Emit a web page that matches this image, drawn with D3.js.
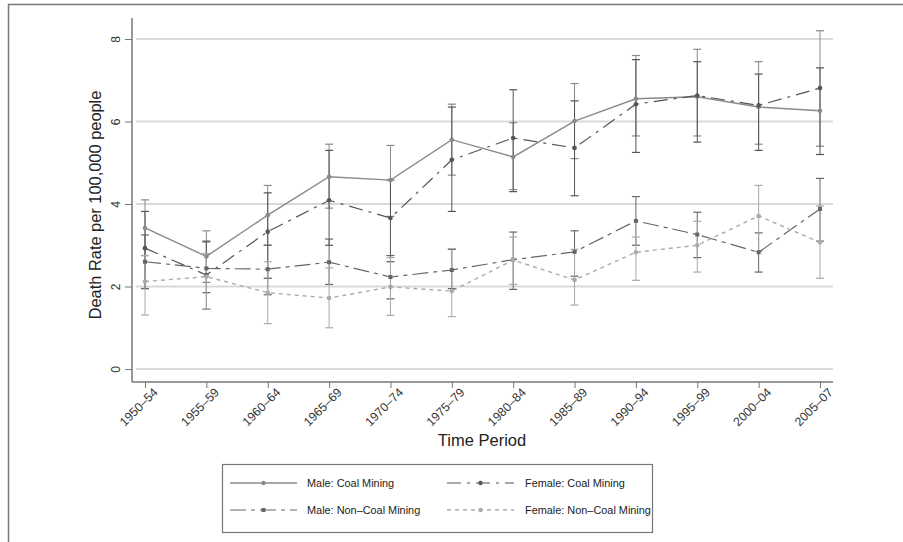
<!DOCTYPE html>
<html><head><meta charset="utf-8">
<script src="https://cdn.jsdelivr.net/npm/d3@7"></script>
<style>body{margin:0;background:#fff}svg{display:block}text{font-family:"Liberation Sans",Arial,sans-serif}</style>
</head><body>
<svg id="c" width="903" height="542"></svg>
<script>
const periods = ["1950–54","1955–59","1960–64","1965–69","1970–74","1975–79","1980–84","1985–89","1990–94","1995–99","2000–04","2005–07"];
const yTicks = [0,2,4,6,8];

const maleCoal     = [3.42,2.73,3.73,4.66,4.58,5.56,5.14,6.01,6.55,6.60,6.35,6.26];
const maleCoalLo   = [2.75,2.10,3.00,3.90,3.70,4.70,4.35,5.10,5.65,5.65,5.45,5.40];
const maleCoalHi   = [4.10,3.35,4.45,5.45,5.42,6.42,5.97,6.92,7.60,7.75,7.45,8.20];

const femCoal      = [2.93,2.28,3.33,4.09,3.66,5.07,5.60,5.36,6.42,6.63,6.39,6.81];
const femCoalLo    = [1.95,1.45,2.20,3.00,2.60,3.82,4.30,4.20,5.25,5.50,5.30,5.20];
const femCoalHi    = [3.82,3.10,4.27,5.30,4.58,6.35,6.77,6.50,7.50,7.45,7.15,7.30];

const maleNon      = [2.60,2.44,2.42,2.59,2.23,2.40,2.65,2.84,3.59,3.26,2.83,3.88];
const maleNonLo    = [1.95,1.85,1.80,2.05,1.70,1.95,1.93,2.25,3.00,2.70,2.35,3.10];
const maleNonHi    = [3.25,3.08,3.00,3.15,2.75,2.90,3.32,3.35,4.18,3.80,3.30,4.62];

const femNon       = [2.12,2.24,1.85,1.72,1.99,1.89,2.64,2.16,2.83,3.00,3.71,3.07];
const femNonLo     = [1.31,1.45,1.10,1.00,1.30,1.27,2.05,1.55,2.15,2.35,2.85,2.20];
const femNonHi     = [2.75,2.80,2.60,2.45,2.70,2.92,3.20,2.90,3.20,3.58,4.45,3.95];

const seriesNames = ["Male: Coal Mining","Female: Coal Mining","Male: Non–Coal Mining","Female: Non–Coal Mining"];

const styles = [
  {color:"#8a8a8a", dash:null, w:1.4, mk:"circle"},
  {color:"#555", dash:"14,6,3,6", w:1.2, mk:"circle"},
  {color:"#666", dash:"16,5,4,5", w:1.2, mk:"square"},
  {color:"#aaa", dash:"4,4", w:1.4, mk:"circle"}
];
const series = [
  {v:maleCoal, lo:maleCoalLo, hi:maleCoalHi},
  {v:femCoal, lo:femCoalLo, hi:femCoalHi},
  {v:maleNon, lo:maleNonLo, hi:maleNonHi},
  {v:femNon, lo:femNonLo, hi:femNonHi}
];

const svg = d3.select("#c");
// outer frame
svg.append("path").attr("d","M8.5,542 V4.5 H903").attr("fill","none").attr("stroke","#777").attr("stroke-width",1.5);

const x = d3.scalePoint().domain(periods).range([145,820]);
const y = d3.scaleLinear().domain([0,8]).range([369,39]);
const left = 132, right = 833, bottom = 382;

// gridlines
svg.append("g").selectAll("line").data(yTicks).join("line")
  .attr("x1",left+4).attr("x2",right).attr("y1",d=>y(d)).attr("y2",d=>y(d))
  .attr("stroke","#d9d9d9").attr("stroke-width",2);

// y axis
const ya = svg.append("g").attr("transform",`translate(${left},0)`)
  .call(d3.axisLeft(y).tickValues(yTicks).tickSize(7).tickPadding(5));
ya.select(".domain").attr("stroke","#777").attr("stroke-width",1.5).attr("d",`M0,18V${bottom}`);
ya.selectAll(".tick line").attr("stroke","#777");
ya.selectAll(".tick text").attr("font-size",12).attr("fill","#333").attr("text-anchor","middle")
  .attr("transform","translate(-16,0) rotate(-90)").attr("x",0).attr("y",0).attr("dy","0.35em");

// x axis
const xa = svg.append("g").attr("transform",`translate(0,${bottom})`)
  .call(d3.axisBottom(x).tickSize(6).tickPadding(4));
xa.select(".domain").attr("stroke","#777").attr("stroke-width",1.5).attr("d",`M${left},0H${right}`);
xa.selectAll(".tick line").attr("stroke","#777");
xa.selectAll(".tick text").attr("font-size",12.3).attr("fill","#333")
  .attr("text-anchor","end").attr("transform","translate(5,3) rotate(-45)").attr("dy","0.6em").attr("y",4);

// axis titles
svg.append("text").attr("x",482).attr("y",446).attr("text-anchor","middle").attr("font-size",16.5).attr("fill","#222").text("Time Period");
svg.append("text").attr("transform","translate(101,205) rotate(-90)").attr("text-anchor","middle").attr("font-size",16.4).attr("fill","#222").text("Death Rate per 100,000 people");

// error bars
series.forEach((s,i)=>{
  const st = styles[i];
  const g = svg.append("g");
  periods.forEach((p,j)=>{
    const cx = x(p);
    g.append("line").attr("x1",cx).attr("x2",cx).attr("y1",y(s.lo[j])).attr("y2",y(s.hi[j])).attr("stroke",st.color).attr("stroke-width",1);
    [s.lo[j],s.hi[j]].forEach(v=>g.append("line").attr("x1",cx-4).attr("x2",cx+4).attr("y1",y(v)).attr("y2",y(v)).attr("stroke",st.color).attr("stroke-width",1.2));
  });
});

// lines and markers
const line = d3.line().x((d,j)=>x(periods[j])).y(d=>y(d));
series.forEach((s,i)=>{
  const st = styles[i];
  svg.append("path").datum(s.v).attr("d",line).attr("fill","none").attr("stroke",st.color)
    .attr("stroke-width",st.w).attr("stroke-dasharray",st.dash);
  const g = svg.append("g");
  s.v.forEach((v,j)=>{
    if(st.mk==="square") g.append("rect").attr("x",x(periods[j])-2).attr("y",y(v)-2).attr("width",4).attr("height",4).attr("fill",st.color);
    else g.append("circle").attr("cx",x(periods[j])).attr("cy",y(v)).attr("r",2.3).attr("fill",st.color);
  });
});

// legend
const lg = svg.append("g");
lg.append("rect").attr("x",222.5).attr("y",464.5).attr("width",430).attr("height",68).attr("fill","#fff").attr("stroke","#777").attr("stroke-width",1.2);
const lpos = [[230,483],[447,483],[230,510],[447,510]];
[0,1,2,3].forEach((i,k)=>{
  const [lx,ly] = lpos[k]; const st = styles[i];
  lg.append("line").attr("x1",lx).attr("x2",lx+67).attr("y1",ly).attr("y2",ly).attr("stroke",st.color).attr("stroke-width",st.w).attr("stroke-dasharray",st.dash);
  if(st.mk==="square") lg.append("rect").attr("x",lx+31.5).attr("y",ly-2).attr("width",4).attr("height",4).attr("fill",st.color);
  else lg.append("circle").attr("cx",lx+33.5).attr("cy",ly).attr("r",2.2).attr("fill",st.color);
  lg.append("text").attr("x",lx+(k%2===0?77:78)).attr("y",ly).attr("dy","0.35em").attr("font-size",10.9).attr("fill","#222").text(seriesNames[i]);
});
</script>
</body></html>
